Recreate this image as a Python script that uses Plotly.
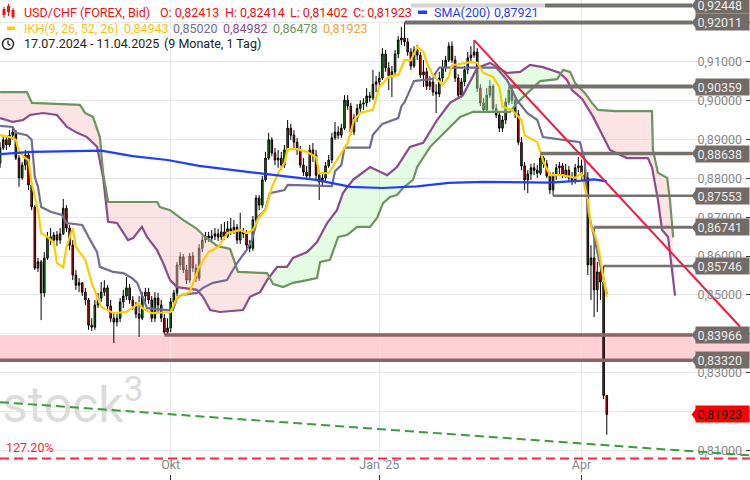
import plotly.graph_objects as go
import pandas as pd

# ---------------- data ----------------
DATES = pd.bdate_range("2024-07-17", "2025-04-11")   # 193 trading days

OPEN = [.8839,.8878,.8899,.8886,.8911,.8919,.8852,.8801,.8834,.8860,
        .8783,.8726,.8569,.8585,.8505,.8595,.8649,.8641,.8654,.8641,
        .8657,.8723,.8672,.8628,.8551,.8525,.8531,.8507,.8487,.8422,
        .8417,.8474,.8492,.8507,.8518,.8471,.8440,.8430,.8440,.8482,
        .8497,.8518,.8487,.8471,.8451,.8440,.8497,.8507,.8487,.8440,
        .8492,.8474,.8440,.8404,.8415,.8482,.8505,.8577,.8598,.8564,
        .8538,.8600,.8569,.8543,.8620,.8641,.8651,.8646,.8651,.8657,
        .8649,.8662,.8651,.8670,.8664,.8674,.8641,.8662,.8657,.8628,
        .8620,.8693,.8749,.8731,.8796,.8852,.8899,.8865,.8847,.8852,
        .8834,.8873,.8929,.8911,.8893,.8873,.8834,.8816,.8806,.8873,
        .8860,.8808,.8791,.8801,.8832,.8847,.8904,.8919,.8911,.8929,
        .9001,.8986,.8919,.8955,.8980,.8991,.8994,.9012,.9007,.9042,
        .9048,.9058,.9120,.9084,.9063,.9074,.9120,.9156,.9161,.9151,
        .9125,.9089,.9130,.9117,.9066,.9074,.9037,.9048,.9022,.9017,
        .9058,.9084,.9104,.9140,.9104,.9058,.9014,.9048,.9079,.9110,
        .9117,.9125,.9032,.8994,.8976,.9014,.9037,.8980,.8963,.8929,
        .8950,.8996,.9027,.9001,.8965,.8893,.8832,.8796,.8811,.8827,
        .8821,.8813,.8852,.8837,.8806,.8770,.8806,.8827,.8832,.8808,
        .8821,.8801,.8796,.8827,.8832,.8808,.8801,.8577,.8595,.8513,
        .8559,.8533,.82413]
HIGH = [.8893,.8911,.8909,.8924,.8929,.8924,.8860,.8842,.8873,.8865,
        .8791,.8731,.8595,.8590,.8610,.8662,.8672,.8662,.8664,.8672,
        .8747,.8731,.8680,.8641,.8564,.8543,.8533,.8518,.8492,.8440,
        .8487,.8505,.8533,.8538,.8525,.8487,.8456,.8451,.8492,.8513,
        .8546,.8528,.8497,.8482,.8497,.8507,.8518,.8518,.8497,.8507,
        .8505,.8487,.8451,.8440,.8492,.8513,.8585,.8610,.8605,.8577,
        .8608,.8610,.8579,.8631,.8651,.8662,.8662,.8667,.8672,.8670,
        .8682,.8688,.8690,.8698,.8693,.8682,.8711,.8672,.8667,.8641,
        .8703,.8757,.8757,.8806,.8868,.8917,.8906,.8878,.8873,.8868,
        .8886,.8950,.8940,.8924,.8904,.8883,.8852,.8832,.8886,.8891,
        .8873,.8821,.8816,.8842,.8860,.8917,.8945,.8934,.8940,.9014,
        .9014,.8994,.8965,.8991,.9001,.9006,.9032,.9022,.9079,.9063,
        .9074,.9135,.9130,.9099,.9089,.9130,.9166,.9189,.92011,.9161,
        .9135,.9140,.9143,.9125,.9104,.9084,.9063,.9058,.9042,.9074,
        .9104,.9115,.9150,.9152,.9115,.9068,.9058,.9089,.9125,.9140,
        .91554,.9135,.9042,.9007,.9032,.9053,.9042,.8991,.8971,.8960,
        .9007,.90359,.9035,.9012,.8976,.8906,.8842,.8821,.8837,.8839,
        .8834,.88638,.8857,.8847,.8816,.8816,.8837,.8842,.8839,.8837,
        .8832,.8816,.8837,.8855,.8848,.8827,.8816,.8628,.86741,.8585,
        .8579,.85746,.82414]
LOW = [.8827,.8873,.8873,.8881,.8899,.8847,.8778,.8796,.8821,.8770,
       .8718,.8564,.8559,.8435,.8495,.8590,.8628,.8631,.8626,.8631,
       .8654,.8662,.8615,.8538,.8513,.8507,.8497,.8474,.8410,.8407,
       .8410,.8466,.8482,.8497,.8461,.8430,.8376,.8419,.8430,.8466,
       .8487,.8477,.8461,.8440,.8392,.8435,.8482,.8477,.8430,.8430,
       .8456,.8430,.8397,.8399,.8404,.8471,.8497,.8564,.8556,.8528,
       .8531,.8559,.8533,.8536,.8610,.8633,.8636,.8636,.8641,.8639,
       .8641,.8641,.8646,.8654,.8657,.8631,.8631,.8646,.8620,.8610,
       .8613,.8685,.8718,.8723,.8791,.8847,.8857,.8834,.8827,.8821,
       .8827,.8868,.8899,.8878,.8860,.8827,.8806,.8796,.8801,.8842,
       .8796,.8744,.8781,.8791,.8827,.8839,.8899,.8901,.8904,.8924,
       .8976,.8911,.8911,.8945,.8971,.8976,.8984,.8996,.9001,.9022,
       .9037,.9053,.9074,.9027,.9009,.9063,.9109,.9143,.9140,.9115,
       .9079,.9084,.9104,.9058,.9035,.9027,.9027,.9012,.8968,.9009,
       .9048,.9074,.9099,.9097,.9048,.9007,.9007,.9037,.9068,.9099,
       .9110,.9022,.8986,.8968,.8971,.9007,.8971,.8955,.8919,.8919,
       .8940,.8989,.8991,.8955,.8886,.8821,.8770,.8762,.8796,.8808,
       .8801,.8808,.8827,.8801,.8760,.87553,.8796,.8811,.8801,.8801,
       .8793,.8783,.8786,.8816,.8796,.8791,.8551,.8487,.8443,.8456,
       .8487,.8232,.81402]
CLOSE = [.8878,.8899,.8886,.8911,.8919,.8852,.8801,.8834,.8860,.8783,
         .8726,.8569,.8585,.8505,.8595,.8649,.8641,.8654,.8641,.8657,
         .8723,.8672,.8628,.8551,.8525,.8531,.8507,.8487,.8422,.8417,
         .8474,.8492,.8507,.8518,.8471,.8440,.8430,.8440,.8482,.8497,
         .8518,.8487,.8471,.8451,.8440,.8497,.8507,.8487,.8440,.8492,
         .8474,.8440,.8404,.8415,.8482,.8505,.8577,.8598,.8564,.8538,
         .8600,.8569,.8543,.8620,.8641,.8651,.8646,.8651,.8657,.8649,
         .8662,.8651,.8670,.8664,.8674,.8641,.8662,.8657,.8628,.8620,
         .8693,.8749,.8731,.8796,.8852,.8899,.8865,.8847,.8852,.8834,
         .8873,.8929,.8911,.8893,.8873,.8834,.8816,.8806,.8873,.8860,
         .8808,.8791,.8801,.8832,.8847,.8904,.8919,.8911,.8929,.9001,
         .8986,.8919,.8955,.8980,.8991,.8994,.9012,.9007,.9042,.9048,
         .9058,.9120,.9084,.9063,.9074,.9120,.9156,.9161,.9151,.9125,
         .9089,.9130,.9117,.9066,.9074,.9037,.9048,.9022,.9017,.9058,
         .9084,.9104,.9140,.9104,.9058,.9014,.9048,.9079,.9110,.9117,
         .9125,.9032,.8994,.8976,.9014,.9037,.8980,.8963,.8929,.8950,
         .8996,.9027,.9001,.8965,.8893,.8832,.8796,.8811,.8827,.8821,
         .8813,.8852,.8837,.8806,.8770,.8806,.8827,.8832,.8808,.8821,
         .8801,.8796,.8827,.8832,.8808,.8801,.8577,.8595,.8513,.8559,
         .8533,.82413,.81923]

# Ichimoku (IKH 9, 26, 52, 26) lines, read as (bar, value) vertices
TENKAN_X = [0,3,5,6,8,9,10,12,13,15,17,18,20,21,23,24,27,29,32,36,40,44,45,48,54,56,60,63,66,69,
            72,76,78,80,82,84,86,88,90,91,94,97,100,101,104,108,110,112,114,118,120,123,126,128,130,
            132,134,135,137,140,142,143,147,149,151,153,156,158,159,162,165,166,170,172,174,178,182,
            184,186,187,188,189,190,192]
TENKAN_Y = [.8911,.8906,.8899,.8868,.8852,.8847,.8788,.8718,.8659,.8649,.8634,.8582,.8571,.8623,.8672,
            .8623,.8590,.8531,.8469,.8453,.8456,.8479,.8466,.8453,.8456,.8494,.8507,.8572,.8610,.8623,
            .8659,.8667,.8659,.8667,.8700,.8718,.8777,.8813,.8839,.8875,.8875,.8868,.8855,.8813,.8813,
            .8865,.8891,.8950,.8968,.8976,.9035,.9061,.9066,.9104,.9104,.9138,.9125,.9097,.9066,.9040,
            .9061,.9091,.9097,.9099,.9097,.9071,.9061,.9035,.8984,.8976,.8950,.8911,.8893,.8842,.8808,
            .8808,.8801,.8813,.8744,.8675,.8659,.8636,.8590,.84943]
KIJUN_X = [0,4,5,8.5,10,11,12,13,16,19.6,21,26,28,30.7,31.6,35.8,39,41.8,43.4,45,46.5,53,54.7,56,57.6,
           62.3,64.2,67.4,71.8,75,78,79.7,81.6,83.9,85.4,90,91,105,106,108,109,117,118,121,126,127,128,
           129,131,137,138,139,157,160.4,163.6,166.8,170,171.8,183.5,185,186,187.7,189,190.5,192]
KIJUN_Y = [.8935,.8932,.8917,.8911,.8899,.8803,.8778,.8726,.8714,.8706,.8685,.8680,.8649,.8610,.8572,
           .8559,.8556,.8543,.8531,.8495,.8466,.8461,.8461,.8492,.8500,.8505,.8518,.8531,.8538,.8582,
           .8615,.8641,.8700,.8718,.8762,.8770,.8783,.8780,.8818,.8834,.8879,.8879,.8912,.8940,.8955,
           .8985,.8996,.9014,.9050,.9056,.9073,.9085,.9085,.9053,.9001,.8968,.8950,.8906,.8893,.8847,
           .8718,.8659,.8615,.8556,.85020]
SPAN_A_X = [0,4.1,7.3,9.5,13.6,18,21.2,24.4,27.5,30.7,32.6,34.2,37,40.5,42.1,44.9,46.5,49.7,51.6,53.8,
            56,62.3,64.2,66.5,69.6,76.9,79.1,82.3,84.5,85.2,87.7,90.8,92.7,97.2,100.3,103.5,106.6,108.5,
            111.7,117.1,122.5,125.6,129.7,133.9,138.3,142.4,146.5,151,155,160.4,164.6,167.7,171.8,177.2,
            177.4,179.4,181,184.2,187.7,193,198.4,205,206.3,208.2,209.5,211.4,213.6]
SPAN_A_Y = [.8955,.8945,.8950,.8963,.8968,.8963,.8932,.8917,.8906,.8881,.8803,.8688,.8685,.8641,.8646,
            .8675,.8649,.8615,.8582,.8538,.8520,.8513,.8495,.8461,.8456,.8461,.8495,.8507,.8538,.8546,
            .8572,.8572,.8595,.8610,.8636,.8685,.8718,.8762,.8796,.8829,.8808,.8829,.8881,.8891,.8950,
            .8994,.9014,.9084,.9097,.9071,.9074,.9092,.9086,.9071,.9069,.9053,.9027,.9004,.8958,.8873,
            .8852,.8852,.8829,.8744,.8667,.8649,.84982]
SPAN_B_X = [0,8.5,10.1,25.3,26.9,29.4,31.6,32.6,34.2,49.7,50.6,53.8,57.9,62.3,64.2,68.7,72.8,74.4,75.3,
            84.5,85.2,86.4,89.6,92.7,97.2,100.3,101.3,104.4,107,109.8,113,117.1,119.3,121.2,123.4,125.6,
            127.5,130.7,132,136.1,142.4,145.6,149.7,161.4,163.6,168.7,170.9,176.3,177.4,178.2,180.4,182,
            185.1,187.3,189.2,194.6,206.3,206.6,208.2,211.1,212,213]
SPAN_B_Y = [.9022,.9022,.8994,.8989,.8968,.8958,.8906,.8814,.8739,.8739,.8726,.8718,.8693,.8670,.8654,
            .8626,.8618,.8577,.8559,.8556,.8546,.8528,.8520,.8531,.8538,.8543,.8585,.8590,.8649,.8654,
            .8675,.8675,.8698,.8736,.8752,.8757,.8775,.8796,.8829,.8881,.8932,.8958,.8971,.8971,.8994,
            .9032,.9050,.9055,.9069,.9079,.9074,.9045,.9019,.8994,.8976,.8973,.8973,.8873,.8814,.8801,
            .8744,.86478]
CLOUD_CROSS = [85.2, 177.4]

SMA_X = [0,10,32,42,53,63,79,100,111,121,132,142,153,174,184,188,192]
SMA_Y = [.8862,.8868,.8871,.8857,.8847,.8832,.8816,.8796,.8778,.8775,.8779,.8788,.8791,.8789,.8794,.8797,.87921]

# drawn levels
LEVELS = [0.92448, 0.92011, 0.90359, 0.88638, 0.87553, 0.86741, 0.85746, 0.83966, 0.83320]
LEVEL_START = [130, 128, 161, 171, 175, 188, 191, 52, 0]
LEVEL_END = 219
LAST = 0.81923
ZONE = (0.83320, 0.83966)
TREND_X = [150, 234.2]
TREND_Y = [0.91554, 0.8418]
CHANNEL_Y = (0.8224, 0.8087)
FIB_LEVEL = 0.8079
Y_TICKS = [0.81, 0.82, 0.83, 0.84, 0.85, 0.86, 0.87, 0.88, 0.89, 0.90, 0.91, 0.92]
Y_TICKS_HIDDEN = [0.82, 0.84, 0.92]          # fully covered by the value boxes
X_TICK_DATES = ["2024-10-01", "2025-01-01", "2025-04-01"]
X_TICK_TEXT = ["Okt", "Jan '25", "Apr"]

# ---------------- styles ----------------
W_PLOT, H_PLOT = 745, 474
Y_RANGE = [0.80391, 0.92588]
X_RANGE = [-0.02, 235.74]
FONT = "Roboto"
C_TENKAN = "#ffcc00"
C_KIJUN = "#6f6d90"
C_SPANA = "#8c4a8c"
C_SPANB = "#6a955c"
C_SMA = "#1f3cff"
C_LEVEL = "#75706c"
C_ZONE_LINE = "#8d6262"
C_BOX = "#726b67"


def px(x):
    return x / W_PLOT


def py(y):
    return 1 - y / H_PLOT


def fmt(v):
    return f"{v:.5f}".replace(".", ",")


BARS = list(range(len(DATES)))
fig = go.Figure()

# watermark
fig.add_trace(go.Scatter(x=[0.6], y=[0.8204], mode="text", text=["stock<sup>3</sup>"],
                         textposition="middle right",
                         textfont=dict(family=FONT, size=50, color="#dcdcdc"),
                         hoverinfo="skip", showlegend=False))

# cloud fills
PINK = "rgba(250,190,190,0.42)"
GREEN = "rgba(190,245,190,0.42)"
segs = [(SPAN_A_X[0], CLOUD_CROSS[0], PINK), (CLOUD_CROSS[0], CLOUD_CROSS[1], GREEN),
        (CLOUD_CROSS[1], 999, PINK)]
for lo, hi, col in segs:
    bx = [x for x in SPAN_B_X if lo <= x <= hi]
    by = [y for x, y in zip(SPAN_B_X, SPAN_B_Y) if lo <= x <= hi]
    ax = [x for x in SPAN_A_X if lo <= x <= hi]
    ay = [y for x, y in zip(SPAN_A_X, SPAN_A_Y) if lo <= x <= hi]
    fig.add_trace(go.Scatter(x=bx, y=by, mode="lines", line=dict(width=0),
                             hoverinfo="skip", showlegend=False))
    fig.add_trace(go.Scatter(x=ax, y=ay, mode="lines", line=dict(width=0), fill="tonexty",
                             fillcolor=col, hoverinfo="skip", showlegend=False))

for xs, ys, c in [(SPAN_A_X, SPAN_A_Y, C_SPANA), (SPAN_B_X, SPAN_B_Y, C_SPANB),
                  (KIJUN_X, KIJUN_Y, C_KIJUN), (TENKAN_X, TENKAN_Y, C_TENKAN),
                  (SMA_X, SMA_Y, C_SMA)]:
    fig.add_trace(go.Scatter(x=xs, y=ys, mode="lines", line=dict(color=c, width=2.2),
                             hoverinfo="skip", showlegend=False))

# level lines
LEVEL_W = [4, 4, 4, 3.5, 2.5, 3, 2.5, 3.5, 3.5]
LEVEL_C = [C_LEVEL] * 7 + [C_ZONE_LINE, C_ZONE_LINE]
for v, s, w, c in zip(LEVELS, LEVEL_START, LEVEL_W, LEVEL_C):
    fig.add_trace(go.Scatter(x=[s, LEVEL_END], y=[v, v], mode="lines",
                             line=dict(color=c, width=w), hoverinfo="skip", showlegend=False))

# trend line
fig.add_trace(go.Scatter(x=TREND_X, y=TREND_Y, mode="lines", line=dict(color="#f5193f", width=2),
                         hoverinfo="skip", showlegend=False))

# candles
fig.add_trace(go.Candlestick(x=BARS, open=OPEN, high=HIGH, low=LOW, close=CLOSE,
                             increasing=dict(line=dict(color="#000000", width=1), fillcolor="#17961a"),
                             decreasing=dict(line=dict(color="#000000", width=1), fillcolor="#ff0000"),
                             whiskerwidth=0, showlegend=False, hoverinfo="skip"))

shapes = []
# pink zone
shapes.append(dict(type="rect", xref="paper", yref="y", x0=0, x1=px(750), y0=ZONE[0], y1=ZONE[1],
                   fillcolor="#ffd0d6", line=dict(width=0), layer="between"))
# green channel dashed line
shapes.append(dict(type="line", xref="paper", yref="y", x0=0, x1=px(750), y0=CHANNEL_Y[0],
                   y1=CHANNEL_Y[1], line=dict(color="#3a9d3a", width=2, dash="9px,5px"), layer="above"))
# fib dashed line
shapes.append(dict(type="line", xref="paper", yref="y", x0=0, x1=px(750), y0=FIB_LEVEL, y1=FIB_LEVEL,
                   line=dict(color="#ff2443", width=2, dash="9px,5px"), layer="above"))

annotations = []
h = 8 * (Y_RANGE[1] - Y_RANGE[0]) / H_PLOT
for v in LEVELS + [LAST]:
    bg = "#ff0000" if v == LAST else C_BOX
    fc = "#1a1a1a" if v == LAST else "#eeeeee"
    shapes.append(dict(type="path", xref="paper", yref="y",
                       path=f"M {px(691.5)} {v} L {px(697.5)} {v + h} L {px(697.5)} {v - h} Z",
                       fillcolor=bg, line=dict(width=0), layer="above"))
    annotations.append(dict(x=px(750), xref="paper", xanchor="right", y=v, yref="y",
                            yanchor="middle", text=fmt(v), showarrow=False, bgcolor=bg,
                            font=dict(family=FONT, size=12.5, color=fc), width=50, height=13,
                            borderpad=1.5, align="left"))

# legend header
shapes.append(dict(type="rect", xref="paper", yref="paper", x0=0, x1=px(545), y0=py(20), y1=py(1),
                   fillcolor="rgba(255,255,255,0.7)", line=dict(width=0), layer="above"))
# candle icon
for cx, t, b, bt, bb in [(4, 7, 18, 9, 15), (8.5, 4, 16, 6, 12), (13, 8, 19, 10, 17)]:
    shapes.append(dict(type="line", xref="paper", yref="paper", x0=px(cx), x1=px(cx), y0=py(b), y1=py(t),
                       line=dict(color="#ee1111", width=1)))
    shapes.append(dict(type="rect", xref="paper", yref="paper", x0=px(cx - 1.5), x1=px(cx + 1.5),
                       y0=py(bb), y1=py(bt), fillcolor="#ee1111", line=dict(width=0)))
shapes.append(dict(type="rect", xref="paper", yref="paper", x0=px(418), x1=px(427), y0=py(14), y1=py(10.5),
                   fillcolor=C_SMA, line=dict(width=0), layer="above"))
shapes.append(dict(type="rect", xref="paper", yref="paper", x0=px(7), x1=px(15), y0=py(30), y1=py(26.5),
                   fillcolor=C_TENKAN, line=dict(width=0), layer="above"))
# clock icon
shapes.append(dict(type="circle", xref="paper", yref="paper", x0=px(2.5), x1=px(13.5), y0=py(49.5),
                   y1=py(38.5), line=dict(color="#222222", width=1.4), layer="above"))
shapes.append(dict(type="path", xref="paper", yref="paper",
                   path=f"M {px(8)} {py(40.5)} L {px(8)} {py(44)} L {px(10.5)} {py(45.5)}",
                   line=dict(color="#222222", width=1.3), layer="above"))

RED_T = "#ee1111"
header = [
    (23, 12.5, "USD/CHF (FOREX, Bid)", RED_T), (159, 12.5, "O: 0,82413", RED_T),
    (224, 12.5, "H: 0,82414", RED_T), (289, 12.5, "L: 0,81402", RED_T),
    (352, 12.5, "C: 0,81923", RED_T), (433, 12.5, "SMA(200)", C_SMA), (493, 12.5, "0,87921", C_SMA),
    (23, 28.5, "IKH(9, 26, 52, 26)", "#ffc20e"), (123, 28.5, "0,84943", "#ffc20e"),
    (172, 28.5, "0,85020", C_KIJUN), (222, 28.5, "0,84982", C_SPANA),
    (272, 28.5, "0,86478", C_SPANB), (322, 28.5, "0,81923", "#f2a33a"),
    (23, 44, "17.07.2024 - 11.04.2025", "#222222"), (163, 44, "(9 Monate, 1 Tag)", "#222222"),
]
for x, y, t, c in header:
    annotations.append(dict(x=px(x - 1), xref="paper", xanchor="left", y=py(y), yref="paper",
                            yanchor="middle", text=t, showarrow=False,
                            font=dict(family=FONT, size=12.5, color=c)))
annotations.append(dict(x=px(4), xref="paper", xanchor="left", y=py(447), yref="paper",
                        yanchor="middle", text="127.20%", showarrow=False,
                        font=dict(family=FONT, size=12.5, color="#ff1f3d")))

x_tickvals = [DATES.get_loc(pd.Timestamp(d)) for d in X_TICK_DATES]
y_ticktext = ["" if v in Y_TICKS_HIDDEN else fmt(v) for v in Y_TICKS]

fig.update_layout(
    width=750, height=480, margin=dict(l=0, r=750 - W_PLOT, t=0, b=480 - H_PLOT),
    paper_bgcolor="white", plot_bgcolor="white", showlegend=False,
    shapes=shapes, annotations=annotations,
    xaxis=dict(range=X_RANGE, tickvals=x_tickvals, ticktext=X_TICK_TEXT, showgrid=True,
               gridcolor="#e8e8e8", zeroline=False, ticks="outside", ticklen=5, tickcolor="#333333",
               ticklabelposition="inside", tickfont=dict(family=FONT, size=12.5, color="#888888"),
               rangeslider=dict(visible=False), showline=False),
    yaxis=dict(range=Y_RANGE, side="right", tickvals=Y_TICKS, ticktext=y_ticktext,
               showgrid=True, gridcolor="#e8e8e8", zeroline=False, ticks="outside", ticklen=4,
               tickcolor="#333333", ticklabelposition="inside",
               tickfont=dict(family=FONT, size=12.5, color="#888888"), showline=False),
)

fig.write_html("out.html", config={"displayModeBar": False},
               post_script="document.body.style.margin='0';document.body.style.overflow='hidden';")
